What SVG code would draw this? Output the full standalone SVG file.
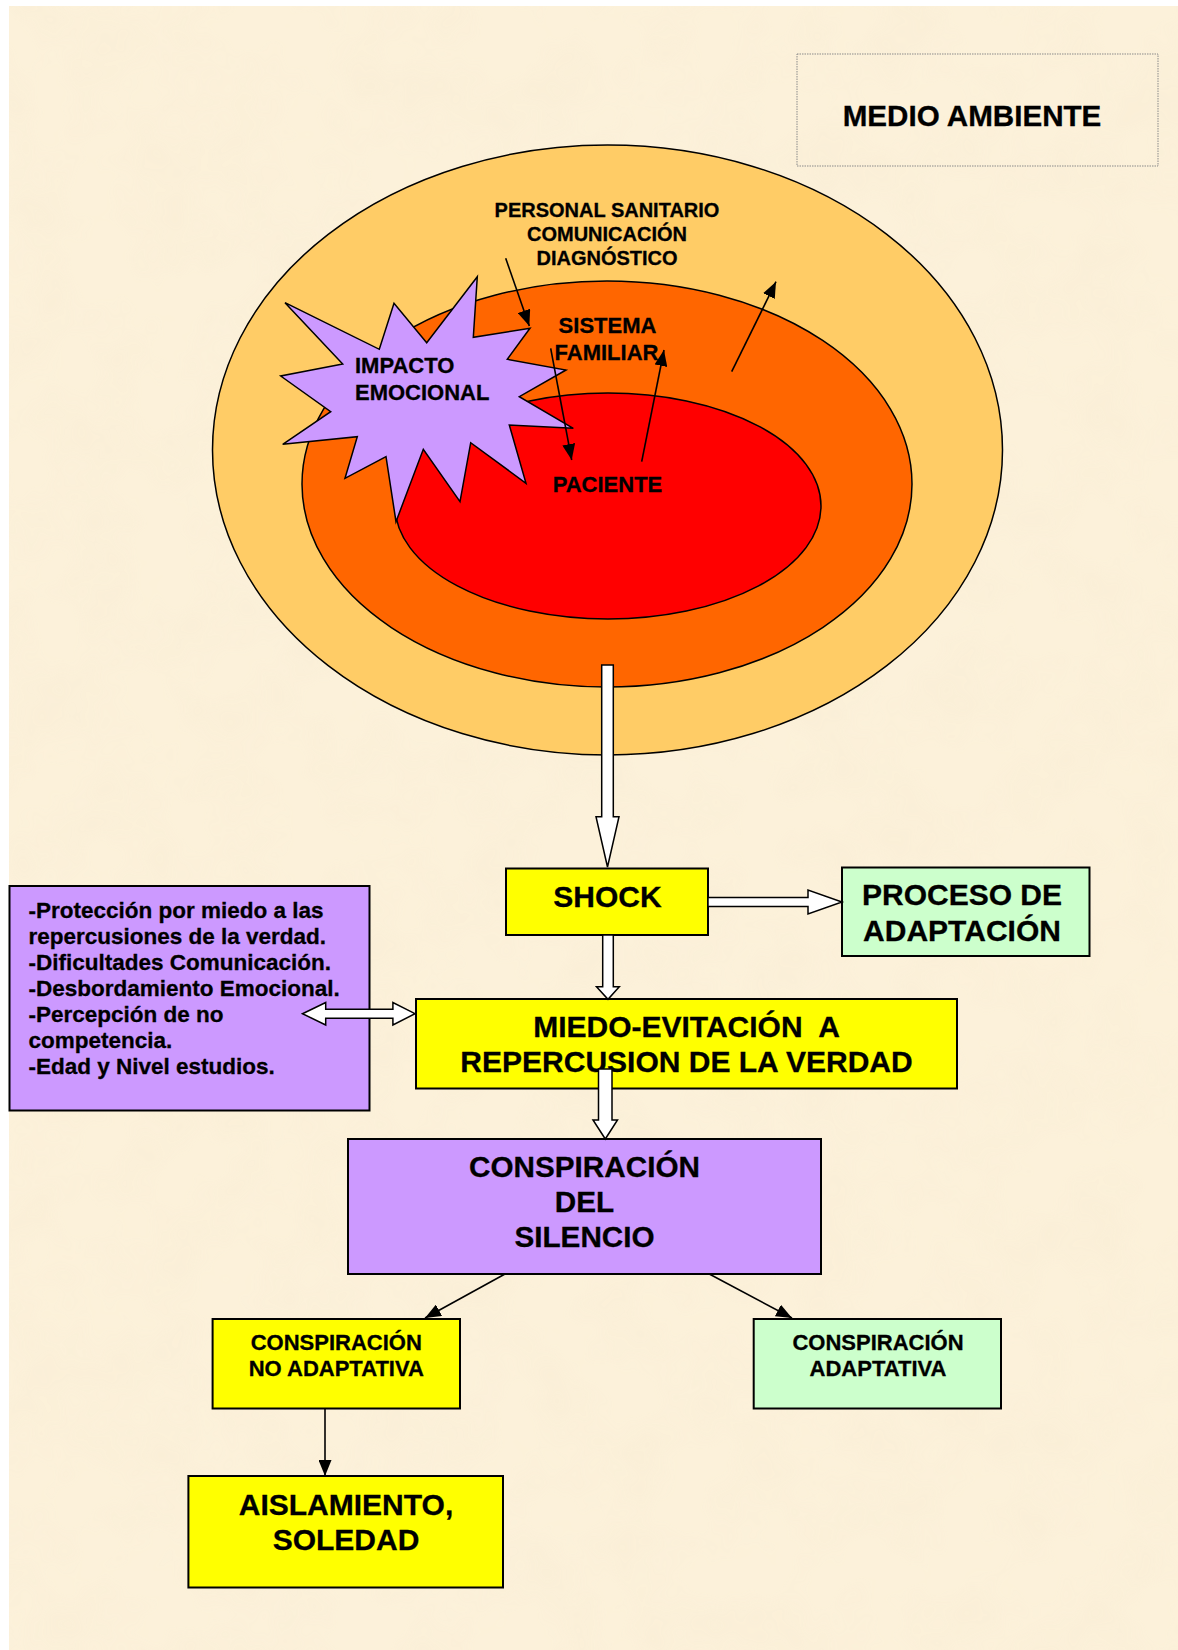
<svg xmlns="http://www.w3.org/2000/svg" width="1178" height="1650" viewBox="0 0 1178 1650">
<style>
text{font-family:"Liberation Sans",Arial,sans-serif;font-weight:bold;fill:#000;stroke:#000;stroke-width:0.3}
.c{text-anchor:middle}
.box{stroke:#000;stroke-width:2}
.ell{stroke:#000;stroke-width:1.5}
.thin{stroke:#000;stroke-width:1.6;fill:none;marker-end:url(#ah)}
.hollow{fill:#fff;stroke:#000;stroke-width:1.5;stroke-linejoin:miter}
.f20{font-size:20px}.f22{font-size:22px}.f225{font-size:22.5px}.f30{font-size:30px}
</style>
<defs>
<marker id="ah" markerWidth="16" markerHeight="13" refX="16" refY="6.5" orient="auto" markerUnits="userSpaceOnUse"><path d="M0,0 L16,6.5 L0,13 z" fill="#000"/></marker>
<filter id="paper" x="0" y="0" width="100%" height="100%">
<feTurbulence type="fractalNoise" baseFrequency="0.015" numOctaves="3" seed="7"/>
<feColorMatrix type="matrix" values="0 0 0 0 0.94  0 0 0 0 0.84  0 0 0 0 0.66  0 0 0 1.1 -0.42"/>
</filter>
</defs>
<rect width="1178" height="1650" fill="#fff"/>
<rect x="9" y="6" width="1169" height="1644" fill="#FCF1DA"/>
<rect x="9" y="6" width="1169" height="1644" filter="url(#paper)" opacity="0.8"/>

<g id="medio-ambiente">
<rect x="797" y="54" width="361" height="112" fill="none" stroke="#8a8a8a" stroke-width="1" stroke-dasharray="1.5,1"/>
<text class="c" x="972" y="126" style="font-size:29.6px">MEDIO AMBIENTE</text>
</g>

<g id="personal-sanitario">
<ellipse class="ell" cx="607.5" cy="450" rx="395" ry="305" fill="#FFCC66"/>
<text class="c f20" x="607" y="217">PERSONAL SANITARIO</text>
<text class="c f20" x="607" y="241">COMUNICACIÓN</text>
<text class="c f20" x="607" y="264.5">DIAGNÓSTICO</text>
</g>
<g id="sistema-familiar">
<ellipse class="ell" cx="607" cy="484" rx="305" ry="203" fill="#FF6600"/>
</g>
<g id="paciente">
<ellipse class="ell" cx="608" cy="506" rx="213" ry="113" fill="#FF0000"/>
<text class="c f22" x="607.5" y="492">PACIENTE</text>
</g>
<g id="impacto-emocional">
<polygon class="ell" fill="#CC99FF" points="477.3,276.7 473.3,337.3 530,328.3 507.3,359.3 566,370 519.3,396.7 573.3,428.3 509.3,425 526,483.3 470.7,442.7 460,501.7 423.3,449.3 396,521.7 386,456.7 345,478.3 357.3,436.7 282.7,444.3 330.7,411.7 280.7,376 342.7,364 285,302.7 379.3,349.3 394,303.3 426.7,342.7"/>
<text class="f22" x="355" y="373">IMPACTO</text>
<text class="f22" x="355" y="400">EMOCIONAL</text>
</g>
<g id="sistema-familiar-label">
<text class="c f22" x="607.5" y="333">SISTEMA</text>
<text class="c f22" x="606.5" y="360">FAMILIAR</text>
</g>

<g id="shock">
<rect class="box" x="506" y="868.5" width="202" height="66.5" fill="#FFFF00"/>
<text class="c f30" x="607.5" y="906.5">SHOCK</text>
</g>
<g id="proceso-adaptacion">
<rect class="box" x="842" y="867.5" width="247.5" height="88.5" fill="#CCFFCC"/>
<text class="c f30" x="962" y="904.5">PROCESO DE</text>
<text class="c f30" x="962" y="940.5">ADAPTACIÓN</text>
</g>
<g id="factores">
<rect class="box" x="9.5" y="886" width="360" height="224.5" fill="#CC99FF"/>
<text class="f225" x="28.4" y="917.5">-Protección por miedo a las</text>
<text class="f225" x="28.4" y="943.5">repercusiones de la verdad.</text>
<text class="f225" x="28.4" y="969.5">-Dificultades Comunicación.</text>
<text class="f225" x="28.4" y="995.5">-Desbordamiento Emocional.</text>
<text class="f225" x="28.4" y="1021.5">-Percepción de no</text>
<text class="f225" x="28.4" y="1047.5">competencia.</text>
<text class="f225" x="28.4" y="1073.5">-Edad y Nivel estudios.</text>
</g>
<g id="miedo-evitacion">
<rect class="box" x="416" y="999" width="541" height="89.5" fill="#FFFF00"/>
<text class="c f30" x="686.5" y="1037" xml:space="preserve">MIEDO-EVITACIÓN  A</text>
<text class="c f30" x="686.5" y="1072">REPERCUSION DE LA VERDAD</text>
</g>
<g id="conspiracion-silencio">
<rect class="box" x="348" y="1139" width="473" height="135" fill="#CC99FF"/>
<text class="c" style="font-size:29.7px" x="584.5" y="1176.5">CONSPIRACIÓN</text>
<text class="c" style="font-size:29.7px" x="584.5" y="1211.5">DEL</text>
<text class="c" style="font-size:29.7px" x="584.5" y="1246.5">SILENCIO</text>
</g>
<g id="no-adaptativa">
<rect class="box" x="212.6" y="1319" width="247.4" height="89.5" fill="#FFFF00"/>
<text class="c f22" x="336.3" y="1350">CONSPIRACIÓN</text>
<text class="c f22" x="336.3" y="1376">NO ADAPTATIVA</text>
</g>
<g id="adaptativa">
<rect class="box" x="753.7" y="1319" width="247.3" height="89.5" fill="#CCFFCC"/>
<text class="c f22" x="878" y="1350">CONSPIRACIÓN</text>
<text class="c f22" x="878" y="1376">ADAPTATIVA</text>
</g>
<g id="aislamiento">
<rect class="box" x="188.4" y="1476" width="314.6" height="111.5" fill="#FFFF00"/>
<text class="c f30" x="346" y="1515">AISLAMIENTO,</text>
<text class="c f30" x="346" y="1550">SOLEDAD</text>
</g>

<g id="connectors">
<line class="thin" x1="505.7" y1="258.3" x2="529.3" y2="326"/>
<line class="thin" x1="550.7" y1="348.3" x2="571.7" y2="460"/>
<line class="thin" x1="641.7" y1="461.7" x2="664" y2="350"/>
<line class="thin" x1="731.7" y1="371.7" x2="776" y2="281.7"/>
<polygon class="hollow" points="601.7,665 613.3,665 613.3,816.7 619,816.7 607.5,867 596,816.7 601.7,816.7"/>
<polygon class="hollow" points="602.7,935 613.3,935 613.3,986.7 619.3,986.7 608,999.3 596.5,986.7 602.7,986.7"/>
<polygon class="hollow" points="708,897.5 808,897.5 808,890 842,902 808,914 808,906.5 708,906.5"/>
<polygon class="hollow" points="302.5,1013.7 325.7,1002.5 325.7,1009.2 392.9,1009.2 392.9,1002.5 415,1013.7 392.9,1025 392.9,1018.2 325.7,1018.2 325.7,1025"/>
<polygon class="hollow" points="598.5,1069 612,1069 612,1120 617.5,1120 605.3,1139 593,1120 598.5,1120"/>
<line class="thin" x1="505" y1="1274" x2="425" y2="1318"/>
<line class="thin" x1="709.3" y1="1274" x2="792" y2="1318"/>
<line class="thin" x1="325" y1="1409" x2="325" y2="1476"/>
</g>
</svg>
